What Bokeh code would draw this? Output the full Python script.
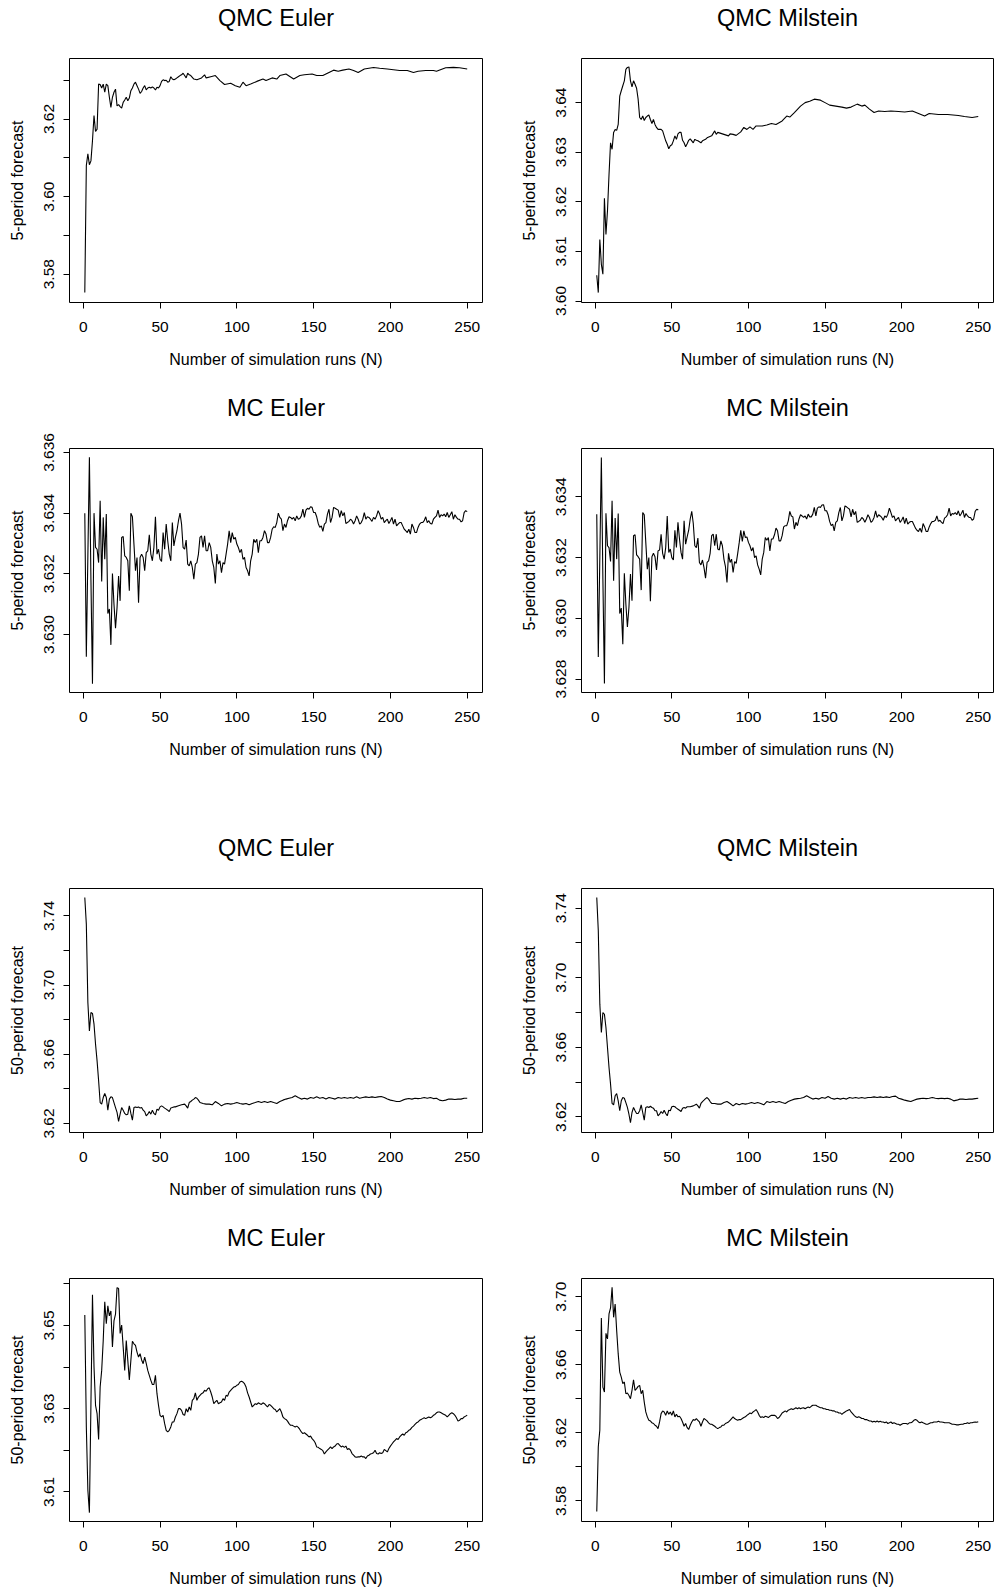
import math
from bokeh.plotting import figure
from bokeh.layouts import row, column
from bokeh.models import Range1d, FixedTicker, LinearAxis
from bokeh.embed import file_html
from bokeh.resources import INLINE

FONT = "Liberation Sans"

TITLES = ["QMC Euler", "QMC Milstein", "MC Euler", "MC Milstein"]
YLAB_5 = "5-period forecast"
YLAB_50 = "50-period forecast"
XLAB = "Number of simulation runs (N)"
X_TICKS = [0, 50, 100, 150, 200, 250]

N_ALL = list(range(1, 251))

# ---------- 5-period, QMC Euler ----------
QE5_N = list(range(1, 71)) + [72, 74, 77, 79, 80, 83, 86, 89, 92, 96, 99, 102, 104, 106, 109,
                               113, 117, 119, 123, 126, 128, 132, 137, 141, 144, 149, 152, 156,
                               160, 163, 166, 169, 173, 176, 179, 183, 189, 193, 198, 202, 206,
                               211, 215, 218, 223, 228, 230, 236, 241, 245, 250]
QE5_V = [3.5753, 3.6080, 3.6110, 3.6082, 3.6092, 3.6144, 3.6209, 3.6168, 3.6174, 3.6290,
         3.6289, 3.6280, 3.6290, 3.6269, 3.6290, 3.6286, 3.6256, 3.6230, 3.6256, 3.6269,
         3.6277, 3.6234, 3.6237, 3.6232, 3.6228, 3.6243, 3.6249, 3.6256, 3.6247, 3.6254,
         3.6273, 3.6280, 3.6290, 3.6295, 3.6286, 3.6277, 3.6266, 3.6271, 3.6280, 3.6286,
         3.6275, 3.6280, 3.6282, 3.6280, 3.6283, 3.6280, 3.6275, 3.6282, 3.6280, 3.6286,
         3.6297, 3.6301, 3.6299, 3.6300, 3.6295, 3.6297, 3.6309, 3.6303, 3.6301, 3.6303,
         3.6306, 3.6309, 3.6312, 3.6314, 3.6318, 3.6312, 3.6306, 3.6318, 3.6314, 3.6312,
         3.6303, 3.6301, 3.6306, 3.6314, 3.6306, 3.6309, 3.6312, 3.6299, 3.6289, 3.6292,
         3.6286, 3.6282, 3.6295, 3.6286, 3.6290, 3.6297, 3.6303, 3.6299, 3.6306, 3.6303,
         3.6312, 3.6316, 3.6303, 3.6312, 3.6314, 3.6316, 3.6312, 3.6312, 3.6320, 3.6326,
         3.6323, 3.6326, 3.6329, 3.6325, 3.6320, 3.6329, 3.6333, 3.6331, 3.6329, 3.6327,
         3.6325, 3.6325, 3.6320, 3.6323, 3.6325, 3.6325, 3.6323, 3.6332, 3.6333, 3.6332,
         3.6329]

# ---------- 5-period, QMC Milstein ----------
QM5_N = list(range(1, 71)) + [72, 73, 76, 78, 79, 80, 83, 85, 87, 88, 90, 92, 95, 97, 99,
                               101, 103, 105, 109, 112, 115, 118, 122, 125, 127, 130, 134, 137,
                               140, 143, 147, 150, 153, 157, 161, 164, 167, 171, 174, 176, 179,
                               182, 185, 189, 193, 198, 202, 207, 211, 215, 218, 224, 230, 237,
                               241, 246, 250]
QM5_V = [3.6052, 3.6017, 3.6124, 3.6074, 3.6054, 3.6207, 3.6134, 3.6182, 3.6255, 3.6319,
         3.6306, 3.6340, 3.6346, 3.6344, 3.6356, 3.6413, 3.6424, 3.6434, 3.6444, 3.6467,
         3.6471, 3.6472, 3.6444, 3.6432, 3.6444, 3.6437, 3.6429, 3.6407, 3.6370, 3.6366,
         3.6373, 3.6364, 3.6370, 3.6373, 3.6375, 3.6366, 3.6358, 3.6366, 3.6356, 3.6350,
         3.6346, 3.6346, 3.6346, 3.6343, 3.6333, 3.6323, 3.6316, 3.6307, 3.6313, 3.6315,
         3.6323, 3.6333, 3.6326, 3.6337, 3.6340, 3.6340, 3.6324, 3.6319, 3.6311, 3.6317,
         3.6324, 3.6327, 3.6323, 3.6319, 3.6326, 3.6324, 3.6323, 3.6321, 3.6319, 3.6323,
         3.6326, 3.6329, 3.6333, 3.6343, 3.6336, 3.6340, 3.6337, 3.6335, 3.6333, 3.6337,
         3.6336, 3.6334, 3.6341, 3.6350, 3.6346,
         3.6351, 3.6346, 3.6353, 3.6353, 3.6355, 3.6358, 3.6356, 3.6363, 3.6373, 3.6371,
         3.6380, 3.6393, 3.6400, 3.6403, 3.6407, 3.6405, 3.6400,
         3.6395, 3.6393, 3.6391, 3.6389, 3.6391, 3.6397, 3.6393, 3.6395, 3.6387, 3.6380,
         3.6383, 3.6382, 3.6383, 3.6382,
         3.6381, 3.6383, 3.6378, 3.6373, 3.6378, 3.6376, 3.6376, 3.6374, 3.6372, 3.6370,
         3.6372]

# ---------- 5-period, MC Euler ----------
ME5_V = [3.63400, 3.62927, 3.63260, 3.63584, 3.63180, 3.62838, 3.63400, 3.63287, 3.63281, 3.63237,
         3.63441, 3.63175, 3.63386, 3.63248, 3.63397, 3.63069, 3.63084, 3.62966, 3.63201, 3.63100,
         3.63021, 3.63089, 3.63193, 3.63111, 3.63320, 3.63323, 3.63259, 3.63254, 3.63243, 3.63144,
         3.63400, 3.63388, 3.63298, 3.63210, 3.63254, 3.63105, 3.63254, 3.63265, 3.63254, 3.63210,
         3.63270, 3.63276, 3.63329, 3.63265, 3.63243, 3.63287, 3.63388, 3.63265, 3.63281, 3.63248,
         3.63241, 3.63336, 3.63281, 3.63364, 3.63309, 3.63265, 3.63243, 3.63369, 3.63292, 3.63320,
         3.63342, 3.63375, 3.63400, 3.63364, 3.63287, 3.63281, 3.63311, 3.63232, 3.63226, 3.63243,
         3.63221, 3.63182, 3.63232, 3.63237, 3.63265, 3.63320, 3.63325, 3.63287, 3.63325, 3.63276,
         3.63276, 3.63303, 3.63287, 3.63243, 3.63221, 3.63168, 3.63265, 3.63232, 3.63243, 3.63204,
         3.63237, 3.63232, 3.63265, 3.63298, 3.63342, 3.63303, 3.63336, 3.63314, 3.63320, 3.63298,
         3.63287, 3.63270, 3.63281, 3.63248, 3.63254, 3.63221, 3.63210, 3.63193, 3.63243, 3.63265,
         3.63314, 3.63303, 3.63314, 3.63270, 3.63309, 3.63309, 3.63320, 3.63342, 3.63331, 3.63303,
         3.63303, 3.63320, 3.63347, 3.63355, 3.63353, 3.63369, 3.63400, 3.63386, 3.63380, 3.63342,
         3.63364, 3.63353, 3.63375, 3.63388, 3.63386, 3.63380, 3.63386, 3.63375, 3.63391, 3.63380,
         3.63382, 3.63391, 3.63413, 3.63386, 3.63410, 3.63416, 3.63413, 3.63421, 3.63419, 3.63402,
         3.63402, 3.63388, 3.63366, 3.63353, 3.63358, 3.63340, 3.63364, 3.63369, 3.63397, 3.63413,
         3.63369, 3.63386, 3.63419, 3.63416, 3.63413, 3.63410, 3.63386, 3.63408, 3.63391, 3.63402,
         3.63366, 3.63369, 3.63373, 3.63380, 3.63375, 3.63364, 3.63375, 3.63391, 3.63380, 3.63364,
         3.63369, 3.63380, 3.63402, 3.63380, 3.63388, 3.63386, 3.63380, 3.63373, 3.63386, 3.63380,
         3.63391, 3.63408, 3.63397, 3.63380, 3.63386, 3.63369, 3.63375, 3.63380, 3.63366, 3.63375,
         3.63386, 3.63364, 3.63380, 3.63358, 3.63364, 3.63369, 3.63369, 3.63358, 3.63347, 3.63342,
         3.63336, 3.63347, 3.63331, 3.63364, 3.63353, 3.63336, 3.63336, 3.63353, 3.63364, 3.63369,
         3.63369, 3.63375, 3.63388, 3.63369, 3.63375, 3.63366, 3.63364, 3.63380, 3.63386, 3.63391,
         3.63410, 3.63386, 3.63395, 3.63391, 3.63397, 3.63388, 3.63402, 3.63386, 3.63395, 3.63405,
         3.63380, 3.63395, 3.63386, 3.63380, 3.63380, 3.63371, 3.63375, 3.63402, 3.63408, 3.63405]

# ---------- 5-period, MC Milstein ----------
MM5_V = [3.63343, 3.62873, 3.63200, 3.63529, 3.63130, 3.62786, 3.63346, 3.63239, 3.63233, 3.63187,
         3.63387, 3.63124, 3.63330, 3.63195, 3.63345, 3.63016, 3.63034, 3.62915, 3.63148, 3.63047,
         3.62972, 3.63036, 3.63146, 3.63058, 3.63272, 3.63275, 3.63209, 3.63203, 3.63195, 3.63093,
         3.63348, 3.63341, 3.63250, 3.63162, 3.63200, 3.63056, 3.63203, 3.63214, 3.63203, 3.63159,
         3.63222, 3.63225, 3.63277, 3.63214, 3.63195, 3.63233, 3.63337, 3.63217, 3.63228, 3.63200,
         3.63192, 3.63290, 3.63233, 3.63316, 3.63261, 3.63217, 3.63195, 3.63321, 3.63244, 3.63268,
         3.63290, 3.63327, 3.63352, 3.63312, 3.63239, 3.63233, 3.63264, 3.63184, 3.63176, 3.63192,
         3.63167, 3.63132, 3.63184, 3.63189, 3.63214, 3.63272, 3.63277, 3.63239, 3.63277, 3.63228,
         3.63225, 3.63255, 3.63239, 3.63195, 3.63170, 3.63118, 3.63214, 3.63184, 3.63195, 3.63151,
         3.63187, 3.63181, 3.63214, 3.63250, 3.63290, 3.63253, 3.63288, 3.63266, 3.63268, 3.63250,
         3.63239, 3.63222, 3.63233, 3.63200, 3.63206, 3.63176, 3.63162, 3.63143, 3.63195, 3.63217,
         3.63266, 3.63257, 3.63266, 3.63222, 3.63261, 3.63261, 3.63275, 3.63297, 3.63288, 3.63255,
         3.63255, 3.63272, 3.63301, 3.63305, 3.63305, 3.63321, 3.63352, 3.63337, 3.63334, 3.63294,
         3.63316, 3.63305, 3.63327, 3.63341, 3.63337, 3.63332, 3.63337, 3.63327, 3.63343, 3.63334,
         3.63334, 3.63343, 3.63365, 3.63337, 3.63363, 3.63367, 3.63365, 3.63373, 3.63374, 3.63354,
         3.63354, 3.63341, 3.63319, 3.63305, 3.63310, 3.63288, 3.63316, 3.63321, 3.63348, 3.63365,
         3.63321, 3.63337, 3.63370, 3.63367, 3.63363, 3.63359, 3.63334, 3.63359, 3.63341, 3.63352,
         3.63316, 3.63319, 3.63323, 3.63332, 3.63327, 3.63316, 3.63327, 3.63341, 3.63332, 3.63316,
         3.63321, 3.63332, 3.63354, 3.63332, 3.63341, 3.63337, 3.63332, 3.63323, 3.63337, 3.63332,
         3.63343, 3.63363, 3.63348, 3.63332, 3.63337, 3.63321, 3.63327, 3.63332, 3.63316, 3.63323,
         3.63334, 3.63312, 3.63330, 3.63310, 3.63316, 3.63319, 3.63319, 3.63308, 3.63297, 3.63290,
         3.63286, 3.63297, 3.63283, 3.63312, 3.63301, 3.63286, 3.63286, 3.63301, 3.63312, 3.63319,
         3.63319, 3.63323, 3.63337, 3.63319, 3.63323, 3.63316, 3.63312, 3.63330, 3.63334, 3.63341,
         3.63363, 3.63337, 3.63345, 3.63343, 3.63348, 3.63341, 3.63354, 3.63337, 3.63345, 3.63356,
         3.63332, 3.63345, 3.63337, 3.63332, 3.63332, 3.63323, 3.63327, 3.63352, 3.63359, 3.63357]

# ---------- 50-period, QMC Euler ----------
SPARSE50_N = list(range(1, 61)) + [62, 64, 66, 67, 68, 69, 70, 71, 72, 73, 74, 75, 76] + list(range(78, 251, 2))
QE50_V = [3.7506, 3.7352, 3.6899, 3.6735, 3.6841, 3.6836, 3.6774, 3.6658, 3.6562, 3.6447,
          3.6321, 3.6312, 3.6350, 3.6373, 3.6350, 3.6277, 3.6341, 3.6354, 3.6350, 3.6321,
          3.6292, 3.6264, 3.6212, 3.6254, 3.6292, 3.6277, 3.6258, 3.6250, 3.6254, 3.6302,
          3.6258, 3.6219, 3.6292, 3.6296, 3.6292, 3.6296, 3.6289, 3.6292, 3.6277, 3.6269,
          3.6244, 3.6254, 3.6269, 3.6254, 3.6277, 3.6258, 3.6250, 3.6283, 3.6277, 3.6296,
          3.6302, 3.6296, 3.6289, 3.6283, 3.6277, 3.6269, 3.6289, 3.6292, 3.6296, 3.6296,
          3.6302, 3.6308, 3.6312, 3.6302, 3.6289, 3.6321, 3.6327, 3.6335, 3.6341, 3.6350,
          3.6346, 3.6335, 3.6321,
          3.6316, 3.6312, 3.6312, 3.6308, 3.6327, 3.6316, 3.6302, 3.6312, 3.6316, 3.6312,
          3.6316, 3.6321,
          3.6316, 3.6312, 3.6316, 3.6308, 3.6316, 3.6321, 3.6327, 3.6321, 3.6327, 3.6321,
          3.6327, 3.6321, 3.6316, 3.6327, 3.6335, 3.6341, 3.6346, 3.6350, 3.6360, 3.6350,
          3.6341, 3.6346, 3.6341, 3.6350, 3.6346,
          3.6354, 3.6346, 3.6350, 3.6341, 3.6350, 3.6346, 3.6341, 3.6350, 3.6346, 3.6350,
          3.6346, 3.6350, 3.6346, 3.6354, 3.6346, 3.6350, 3.6354, 3.6350, 3.6354, 3.6350,
          3.6354, 3.6356, 3.6350, 3.6341, 3.6335,
          3.6331, 3.6327, 3.6327, 3.6335, 3.6341, 3.6344, 3.6341, 3.6346, 3.6344, 3.6346,
          3.6350, 3.6346, 3.6350, 3.6344, 3.6346, 3.6335, 3.6331, 3.6335, 3.6341, 3.6341,
          3.6339, 3.6341, 3.6341, 3.6346, 3.6346]

# ---------- 50-period, QMC Milstein ----------
QM50_V = [3.7461, 3.7270, 3.6848, 3.6685, 3.6800, 3.6790, 3.6714, 3.6599, 3.6484, 3.6388,
          3.6277, 3.6269, 3.6321, 3.6334, 3.6292, 3.6235, 3.6292, 3.6311, 3.6307, 3.6282,
          3.6254, 3.6215, 3.6167, 3.6225, 3.6254, 3.6235, 3.6219, 3.6219, 3.6235, 3.6269,
          3.6225, 3.6181, 3.6254, 3.6258, 3.6254, 3.6261, 3.6254, 3.6250, 3.6235, 3.6235,
          3.6206, 3.6215, 3.6231, 3.6219, 3.6238, 3.6219, 3.6206, 3.6238, 3.6235, 3.6258,
          3.6261, 3.6258, 3.6250, 3.6244, 3.6238, 3.6231, 3.6250, 3.6254, 3.6250, 3.6258,
          3.6258, 3.6263, 3.6273, 3.6263, 3.6250, 3.6277, 3.6288, 3.6296, 3.6305, 3.6311,
          3.6302, 3.6288, 3.6277,
          3.6277, 3.6273, 3.6273, 3.6282, 3.6288, 3.6277, 3.6263, 3.6277, 3.6269, 3.6277,
          3.6273, 3.6277,
          3.6282, 3.6277, 3.6282, 3.6277, 3.6269, 3.6288, 3.6282, 3.6288, 3.6282, 3.6288,
          3.6282, 3.6277, 3.6288, 3.6296, 3.6302, 3.6305, 3.6307, 3.6311, 3.6321, 3.6311,
          3.6302, 3.6307, 3.6302, 3.6311, 3.6307,
          3.6317, 3.6307, 3.6302, 3.6307, 3.6302, 3.6307, 3.6302, 3.6311, 3.6307, 3.6311,
          3.6307, 3.6311, 3.6307, 3.6311, 3.6311, 3.6315, 3.6311, 3.6315, 3.6311, 3.6315,
          3.6311, 3.6317, 3.6319, 3.6307, 3.6302,
          3.6296, 3.6292, 3.6288, 3.6296, 3.6302, 3.6305, 3.6307, 3.6305, 3.6307, 3.6311,
          3.6307, 3.6305, 3.6307, 3.6305, 3.6307, 3.6302, 3.6292, 3.6296, 3.6302, 3.6302,
          3.6300, 3.6302, 3.6302, 3.6305, 3.6307]

# ---------- 50-period, MC Euler ----------
ME50_V = [3.6525, 3.6256, 3.6104, 3.6050, 3.6312, 3.6574, 3.6400, 3.6308, 3.6288, 3.6226,
          3.6352, 3.6392, 3.6464, 3.6557, 3.6504, 3.6547, 3.6523, 3.6535, 3.6448, 3.6511,
          3.6527, 3.6591, 3.6589, 3.6481, 3.6501, 3.6448, 3.6392, 3.6464, 3.6416, 3.6369,
          3.6416, 3.6462, 3.6456, 3.6452, 3.6436, 3.6424, 3.6432, 3.6417, 3.6408, 3.6424,
          3.6409, 3.6392, 3.6380, 3.6368, 3.6358, 3.6358, 3.6380, 3.6336, 3.6308, 3.6284,
          3.6280, 3.6284, 3.6264, 3.6248, 3.6244, 3.6248, 3.6256, 3.6268, 3.6268, 3.6280,
          3.6288, 3.6300, 3.6300, 3.6296, 3.6286, 3.6284, 3.6300, 3.6292, 3.6304, 3.6296,
          3.6320, 3.6324, 3.6338, 3.6320, 3.6328, 3.6332, 3.6336, 3.6338, 3.6344, 3.6342,
          3.6348, 3.6350, 3.6340, 3.6328, 3.6312, 3.6316, 3.6320, 3.6312, 3.6314, 3.6316,
          3.6324, 3.6320, 3.6332, 3.6330, 3.6340, 3.6344, 3.6348, 3.6352, 3.6353, 3.6356,
          3.6358, 3.6364, 3.6366, 3.6364, 3.6360, 3.6352, 3.6338, 3.6328, 3.6316, 3.6304,
          3.6308, 3.6312, 3.6310, 3.6314, 3.6312, 3.6310, 3.6314, 3.6312, 3.6308, 3.6304,
          3.6310, 3.6308, 3.6304, 3.6300, 3.6298, 3.6292, 3.6296, 3.6300, 3.6292, 3.6280,
          3.6276, 3.6274, 3.6270, 3.6264, 3.6260, 3.6260, 3.6258, 3.6256, 3.6258, 3.6255,
          3.6250, 3.6244, 3.6240, 3.6242, 3.6239, 3.6236, 3.6232, 3.6234, 3.6228, 3.6224,
          3.6218, 3.6208, 3.6207, 3.6204, 3.6202, 3.6199, 3.6191, 3.6196, 3.6200, 3.6204,
          3.6208, 3.6204, 3.6208, 3.6210, 3.6215, 3.6216, 3.6212, 3.6208, 3.6210, 3.6207,
          3.6210, 3.6202, 3.6204, 3.6200, 3.6192, 3.6188, 3.6184, 3.6183, 3.6184, 3.6184,
          3.6186, 3.6184, 3.6184, 3.6180, 3.6186, 3.6188, 3.6191, 3.6192, 3.6194, 3.6200,
          3.6192, 3.6191, 3.6194, 3.6192, 3.6194, 3.6202, 3.6199, 3.6196, 3.6204, 3.6210,
          3.6215, 3.6220, 3.6224, 3.6228, 3.6226, 3.6232, 3.6236, 3.6239, 3.6236, 3.6242,
          3.6244, 3.6248, 3.6250, 3.6255, 3.6258, 3.6262, 3.6266, 3.6268, 3.6272, 3.6274,
          3.6276, 3.6278, 3.6276, 3.6278, 3.6280, 3.6278, 3.6280, 3.6284, 3.6286, 3.6290,
          3.6292, 3.6292, 3.6290, 3.6288, 3.6286, 3.6284, 3.6280, 3.6284, 3.6288, 3.6290,
          3.6288, 3.6284, 3.6278, 3.6270, 3.6272, 3.6276, 3.6276, 3.6280, 3.6282, 3.6284]

# ---------- 50-period, MC Milstein ----------
MM50_V = [3.5738, 3.6118, 3.6216, 3.6875, 3.6469, 3.6440, 3.6785, 3.6752, 3.6899, 3.6934,
          3.7055, 3.6879, 3.6957, 3.6801, 3.6664, 3.6557, 3.6528, 3.6489, 3.6499, 3.6430,
          3.6434, 3.6420, 3.6401, 3.6450, 3.6512, 3.6450, 3.6460, 3.6473, 3.6479, 3.6430,
          3.6450, 3.6381, 3.6323, 3.6294, 3.6274, 3.6270, 3.6259, 3.6255, 3.6245, 3.6239,
          3.6225, 3.6264, 3.6313, 3.6329, 3.6323, 3.6303, 3.6329, 3.6309, 3.6323, 3.6303,
          3.6329, 3.6294, 3.6309, 3.6294, 3.6298, 3.6284, 3.6264, 3.6239, 3.6255, 3.6231,
          3.6220, 3.6245, 3.6264, 3.6278, 3.6274, 3.6284, 3.6274, 3.6264, 3.6239, 3.6264,
          3.6284, 3.6278, 3.6270, 3.6259, 3.6251, 3.6251, 3.6245, 3.6239, 3.6231, 3.6225,
          3.6231, 3.6235, 3.6245, 3.6245, 3.6255, 3.6259, 3.6264, 3.6274, 3.6284, 3.6294,
          3.6284, 3.6278, 3.6274, 3.6278, 3.6278, 3.6284, 3.6290, 3.6294, 3.6303, 3.6309,
          3.6317, 3.6313, 3.6323, 3.6329, 3.6337, 3.6323, 3.6303, 3.6290, 3.6294, 3.6290,
          3.6298, 3.6294, 3.6290, 3.6298, 3.6303, 3.6303, 3.6303, 3.6298, 3.6284, 3.6290,
          3.6303, 3.6317, 3.6323, 3.6329, 3.6323, 3.6333, 3.6337, 3.6342, 3.6337, 3.6342,
          3.6348, 3.6342, 3.6348, 3.6342, 3.6346, 3.6348, 3.6342, 3.6348, 3.6352, 3.6348,
          3.6356, 3.6362, 3.6362, 3.6362, 3.6356, 3.6352, 3.6348, 3.6348, 3.6342, 3.6342,
          3.6337, 3.6337, 3.6333, 3.6333, 3.6329, 3.6329, 3.6323, 3.6323, 3.6317, 3.6317,
          3.6309, 3.6317, 3.6323, 3.6329, 3.6333, 3.6337, 3.6323, 3.6313, 3.6303, 3.6294,
          3.6290, 3.6294, 3.6290, 3.6284, 3.6284, 3.6278, 3.6278, 3.6274, 3.6270, 3.6270,
          3.6264, 3.6268, 3.6264, 3.6270, 3.6264, 3.6268, 3.6264, 3.6264, 3.6259, 3.6264,
          3.6255, 3.6259, 3.6264, 3.6255, 3.6259, 3.6255, 3.6251, 3.6251, 3.6245, 3.6251,
          3.6255, 3.6255, 3.6255, 3.6251, 3.6259, 3.6259, 3.6264, 3.6274, 3.6278, 3.6274,
          3.6264, 3.6259, 3.6264, 3.6259, 3.6255, 3.6251, 3.6251, 3.6255, 3.6259, 3.6259,
          3.6264, 3.6264, 3.6264, 3.6268, 3.6264, 3.6264, 3.6262, 3.6260, 3.6259, 3.6259,
          3.6259, 3.6255, 3.6251, 3.6251, 3.6249, 3.6247, 3.6247, 3.6249, 3.6251, 3.6251,
          3.6255, 3.6255, 3.6259, 3.6255, 3.6259, 3.6259, 3.6262, 3.6264, 3.6262, 3.6266]

# ---------- y axis ticks and labels ----------
YT_QE5 = [3.58, 3.59, 3.60, 3.61, 3.62, 3.63]
YL_QE5 = ["3.58", "", "3.60", "", "3.62", ""]
YT_QM5 = [3.60, 3.61, 3.62, 3.63, 3.64]
YL_QM5 = ["3.60", "3.61", "3.62", "3.63", "3.64"]
YT_ME5 = [3.630, 3.632, 3.634, 3.636]
YL_ME5 = ["3.630", "3.632", "3.634", "3.636"]
YT_MM5 = [3.628, 3.630, 3.632, 3.634]
YL_MM5 = ["3.628", "3.630", "3.632", "3.634"]
YT_Q50 = [3.62, 3.64, 3.66, 3.68, 3.70, 3.72, 3.74]
YL_Q50 = ["3.62", "", "3.66", "", "3.70", "", "3.74"]
YT_ME50 = [3.61, 3.62, 3.63, 3.64, 3.65, 3.66]
YL_ME50 = ["3.61", "", "3.63", "", "3.65", ""]
YT_MM50 = [3.58, 3.60, 3.62, 3.64, 3.66, 3.68, 3.70]
YL_MM50 = ["3.58", "", "3.62", "", "3.66", "", "3.70"]

# axis windows (R style, 4% padding)
XR = (-8.96, 259.96)
YR = {
    "QE5": (3.5727, 3.6356), "QM5": (3.5997, 3.6489),
    "ME5": (3.62809, 3.63613), "MM5": (3.62756, 3.63559),
    "QE50": (3.6148, 3.7558), "QM50": (3.6110, 3.7513),
    "ME50": (3.60287, 3.66129), "MM50": (3.5679, 3.71073),
}

# layout geometry: (width, border_left, border_right) and (height, border_top, border_bottom)
COL_L = (510, 69, 28)
COL_R = (485, 71, 2)
ROWS = [(382, 58, 80), (418, 66, 108), (412, 88, 80), (377, 66, 67)]


def panel(title, ylabel, xs, ys, yr, yt, yl, col, rw):
    assert len(xs) == len(ys), (title, len(xs), len(ys))
    w, bl, br = col
    h, bt, bb = rw
    p = figure(width=w, height=h, x_range=Range1d(*XR), y_range=Range1d(*yr),
               output_backend="svg", toolbar_location=None,
               min_border_left=bl, min_border_right=br,
               min_border_top=bt, min_border_bottom=bb)
    p.line(xs, ys, line_color="black", line_width=1.1)
    p.xgrid.visible = False
    p.ygrid.visible = False
    p.outline_line_color = "black"
    p.outline_line_width = 1
    p.outline_line_alpha = 1
    p.background_fill_color = "white"
    p.border_fill_color = "white"

    xa = p.below[0]
    ya = p.left[0]
    for ax in (xa, ya):
        ax.axis_line_color = None
        ax.major_tick_in = 0
        ax.major_tick_out = 6
        ax.major_tick_line_color = "black"
        ax.major_tick_line_width = 1
        ax.minor_tick_line_color = None
        ax.major_label_text_font = FONT
        ax.major_label_text_font_size = "15.5px"
        ax.major_label_text_color = "black"
        ax.axis_label_text_font = FONT
        ax.axis_label_text_font_size = "16px"
        ax.axis_label_text_font_style = "normal"
        ax.axis_label_text_color = "black"
        ax.axis_label_standoff = 16
    xa.ticker = FixedTicker(ticks=X_TICKS, minor_ticks=[])
    xa.major_label_standoff = 13
    xa.axis_label = XLAB
    ya.ticker = FixedTicker(ticks=yt, minor_ticks=[])
    ya.major_label_overrides = {t: l for t, l in zip(yt, yl)}
    ya.major_label_orientation = "vertical"
    ya.major_label_standoff = 9
    ya.axis_label = ylabel

    # panel title drawn as the label of a tick-less axis above the frame
    tax = LinearAxis(ticker=FixedTicker(ticks=[], minor_ticks=[]), axis_label=title)
    tax.axis_line_color = None
    tax.major_tick_out = 0
    tax.major_tick_in = 0
    tax.minor_tick_out = 0
    tax.minor_tick_in = 0
    tax.major_tick_line_color = None
    tax.minor_tick_line_color = None
    tax.major_label_standoff = 0
    tax.axis_label_standoff = 28
    tax.axis_label_text_font = FONT
    tax.axis_label_text_font_size = "23.5px"
    tax.axis_label_text_font_style = "normal"
    tax.axis_label_text_color = "black"
    p.add_layout(tax, "above")
    return p


p1 = panel(TITLES[0], YLAB_5, QE5_N, QE5_V, YR["QE5"], YT_QE5, YL_QE5, COL_L, ROWS[0])
p2 = panel(TITLES[1], YLAB_5, QM5_N, QM5_V, YR["QM5"], YT_QM5, YL_QM5, COL_R, ROWS[0])
p3 = panel(TITLES[2], YLAB_5, N_ALL, ME5_V, YR["ME5"], YT_ME5, YL_ME5, COL_L, ROWS[1])
p4 = panel(TITLES[3], YLAB_5, N_ALL, MM5_V, YR["MM5"], YT_MM5, YL_MM5, COL_R, ROWS[1])
p5 = panel(TITLES[0], YLAB_50, SPARSE50_N, QE50_V, YR["QE50"], YT_Q50, YL_Q50, COL_L, ROWS[2])
p6 = panel(TITLES[1], YLAB_50, SPARSE50_N, QM50_V, YR["QM50"], YT_Q50, YL_Q50, COL_R, ROWS[2])
p7 = panel(TITLES[2], YLAB_50, N_ALL, ME50_V, YR["ME50"], YT_ME50, YL_ME50, COL_L, ROWS[3])
p8 = panel(TITLES[3], YLAB_50, N_ALL, MM50_V, YR["MM50"], YT_MM50, YL_MM50, COL_R, ROWS[3])

layout = column(row(p1, p2), row(p3, p4), row(p5, p6), row(p7, p8))

with open("out.html", "w") as f:
    f.write(file_html(layout, INLINE))
